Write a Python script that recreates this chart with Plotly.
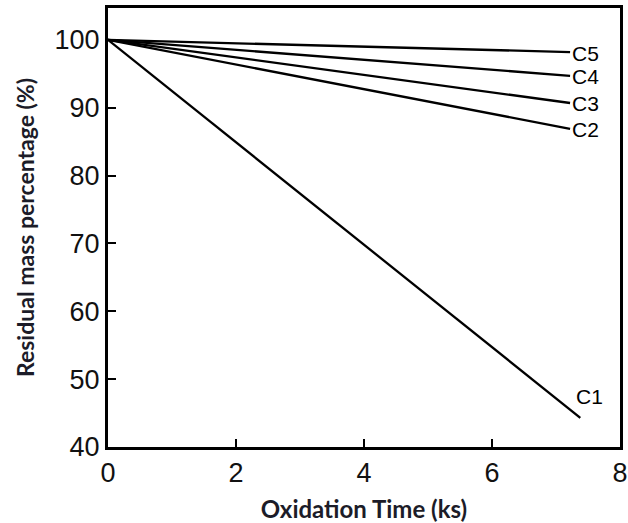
import plotly.graph_objects as go

time_ks = [0, 7.22]
c1_x = [0, 7.38]
c1_y = [100, 44.3]
c2_y = [100, 86.9]
c3_y = [100, 90.7]
c4_y = [100, 94.7]
c5_y = [100, 98.2]
labels = ["C1", "C2", "C3", "C4", "C5"]
y_ticks = [40, 50, 60, 70, 80, 90, 100]
x_ticks = [0, 2, 4, 6, 8]

fig = go.Figure()
line = dict(color="black", width=2.3)
fig.add_trace(go.Scatter(x=c1_x, y=c1_y, mode="lines", line=line, name="C1"))
for name, ys in zip(labels[1:], [c2_y, c3_y, c4_y, c5_y]):
    fig.add_trace(go.Scatter(x=time_ks, y=ys, mode="lines", line=line, name=name))

label_font = dict(family="Liberation Sans, Arial", size=21, color="black")
ends = [(c1_x[-1], c1_y[-1]), (time_ks[-1], c2_y[-1]), (time_ks[-1], c3_y[-1]),
        (time_ks[-1], c4_y[-1]), (time_ks[-1], c5_y[-1])]
for lab, (ex, ey) in zip(labels, ends):
    if lab == "C1":
        fig.add_annotation(x=ex, y=ey, text=lab, showarrow=False, xanchor="center",
                           xshift=9, yshift=21, font=label_font)
    else:
        fig.add_annotation(x=ex, y=ey, text=lab, showarrow=False, xanchor="left",
                           xshift=0, yshift=-1, font=label_font)

title_color = "#1c1c28"
fig.update_layout(
    width=628, height=523,
    margin=dict(l=108, r=8, t=8, b=76),
    plot_bgcolor="white", paper_bgcolor="white",
    showlegend=False,
)
fig.update_xaxes(
    range=[0, 8], tickvals=x_ticks, ticks="inside", ticklen=8, tickwidth=2, tickcolor="black",
    showline=True, linecolor="black", linewidth=3, mirror=True, showgrid=False, zeroline=False,
    automargin=False,
    tickfont=dict(family="Liberation Sans, Arial", size=27, color="#111"),
    title=dict(text="<b>Oxidation Time (ks)</b>", font=dict(family="Lato", size=24, color=title_color), standoff=16),
)
fig.update_yaxes(
    range=[40, 104.7], tickvals=y_ticks, ticks="inside", ticklen=8, tickwidth=2, tickcolor="black",
    showline=True, linecolor="black", linewidth=3, mirror=True, showgrid=False, zeroline=False,
    automargin=False,
    tickfont=dict(family="Liberation Sans, Arial", size=27, color="#111"),
    title=dict(text="<b>Residual mass percentage (%)</b>", font=dict(family="Lato", size=23, color=title_color), standoff=14),
)
fig.write_html("out.html")
